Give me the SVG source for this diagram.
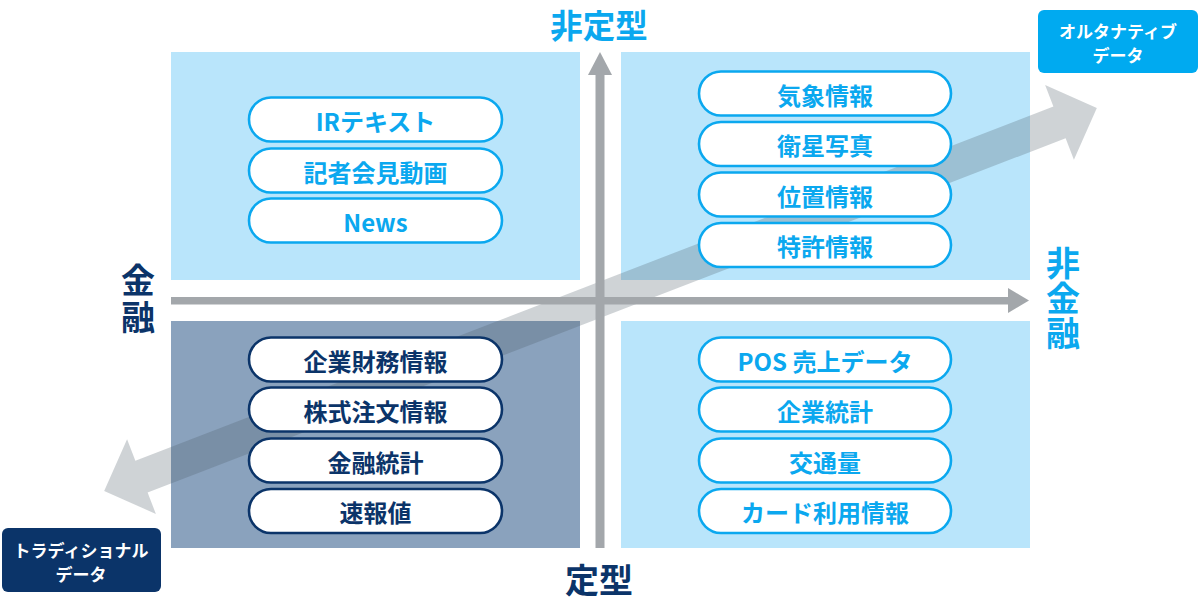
<svg xmlns="http://www.w3.org/2000/svg" width="1200" height="603" viewBox="0 0 1200 603">
<style>
.t{font-family:"Noto Sans CJK JP","Noto Sans",sans-serif;font-weight:bold;text-anchor:middle}
.v{font-family:"Noto Sans CJK JP","Noto Sans",sans-serif;font-weight:bold;writing-mode:vertical-rl;text-anchor:start}
.pl rect{fill:#ffffff;stroke-width:2.6}
.pb rect{stroke:#0ba8ef}
.pb text{fill:#0ba8ef;font-size:24px}
.pn rect{stroke:#0b3469}
.pn text{fill:#0b3469;font-size:24px}
.ax{fill:#a3a7ab}
</style>
<rect width="1200" height="603" fill="#ffffff"/>
<g id="quadrants">
<rect x="171" y="52" width="409" height="228" fill="#b9e5fb"/>
<rect x="621" y="52" width="409" height="228" fill="#b9e5fb"/>
<rect x="171" y="321" width="409" height="227" fill="#8aa2bd"/>
<rect x="621" y="321" width="409" height="227" fill="#b9e5fb"/>
</g>
<g id="connectors">
<g id="diagonal-arrow" transform="translate(600.5,299.5) rotate(-21.1)">
<polygon points="-532,0 -492,-40 -492,-17 492,-17 492,-40 532,0 492,40 492,17 -492,17 -492,40" fill="#4d5b69" fill-opacity="0.27"/>
</g>
<rect class="ax" x="595.5" y="74" width="9" height="474"/>
<polygon class="ax" points="600,52 588,75 612,75"/>
<rect class="ax" x="171" y="297" width="838" height="7.5"/>
<polygon class="ax" points="1029,300.5 1008,288 1008,313"/>
</g>
<g id="axis-labels">
<text class="t" x="599" y="37.5" font-size="32.5" fill="#0ba8ef">非定型</text>
<text class="t" x="599" y="593" font-size="34" fill="#0b3469">定型</text>
<text class="v" x="138" y="263" font-size="34" letter-spacing="3" fill="#0b3469">金融</text>
<text class="v" x="1063" y="246" font-size="34" letter-spacing="1" fill="#0ba8ef">非金融</text>
</g>
<g id="alt-data" class="t">
<rect x="1038" y="10" width="160" height="63" rx="6" fill="#00aaf0"/>
<text x="1118" y="38" font-size="17" fill="#ffffff">オルタナティブ<tspan x="1118" dy="24">データ</tspan></text>
</g>
<g id="trad-data" class="t">
<rect x="2" y="528" width="159" height="64" rx="6" fill="#0b3469"/>
<text x="81" y="557" font-size="17" fill="#ffffff">トラディショナル<tspan x="81" dy="24">データ</tspan></text>
</g>
<g id="tl-pills" class="t pl pb">
<g id="ir-text"><rect x="249" y="97.5" width="253" height="44" rx="22"/><text x="375.5" y="130.5">IRテキスト</text></g>
<g id="press-video"><rect x="249" y="148.5" width="253" height="44" rx="22"/><text x="375.5" y="181.5">記者会見動画</text></g>
<g id="news"><rect x="249" y="198.5" width="253" height="44" rx="22"/><text x="375.5" y="231.5">News</text></g>
</g>
<g id="tr-pills" class="t pl pb">
<g id="weather"><rect x="699" y="71.5" width="252" height="44" rx="22"/><text x="825" y="104.5">気象情報</text></g>
<g id="satellite"><rect x="699" y="122" width="252" height="44" rx="22"/><text x="825" y="155">衛星写真</text></g>
<g id="location"><rect x="699" y="172.5" width="252" height="44" rx="22"/><text x="825" y="205.5">位置情報</text></g>
<g id="patent"><rect x="699" y="223" width="252" height="44" rx="22"/><text x="825" y="256">特許情報</text></g>
</g>
<g id="bl-pills" class="t pl pn">
<g id="financials"><rect x="249" y="337.5" width="253" height="44" rx="22"/><text x="375.5" y="370.5">企業財務情報</text></g>
<g id="orders"><rect x="249" y="387.5" width="253" height="44" rx="22"/><text x="375.5" y="420.5">株式注文情報</text></g>
<g id="fin-stats"><rect x="249" y="438.5" width="253" height="44" rx="22"/><text x="375.5" y="471.5">金融統計</text></g>
<g id="flash"><rect x="249" y="489" width="253" height="44" rx="22"/><text x="375.5" y="522">速報値</text></g>
</g>
<g id="br-pills" class="t pl pb">
<g id="pos"><rect x="699" y="337.5" width="252" height="44" rx="22"/><text x="825" y="370.5">POS 売上データ</text></g>
<g id="corp-stats"><rect x="699" y="387.5" width="252" height="44" rx="22"/><text x="825" y="420.5">企業統計</text></g>
<g id="traffic"><rect x="699" y="438.5" width="252" height="44" rx="22"/><text x="825" y="471.5">交通量</text></g>
<g id="card"><rect x="699" y="489" width="252" height="44" rx="22"/><text x="825" y="522">カード利用情報</text></g>
</g>
</svg>
